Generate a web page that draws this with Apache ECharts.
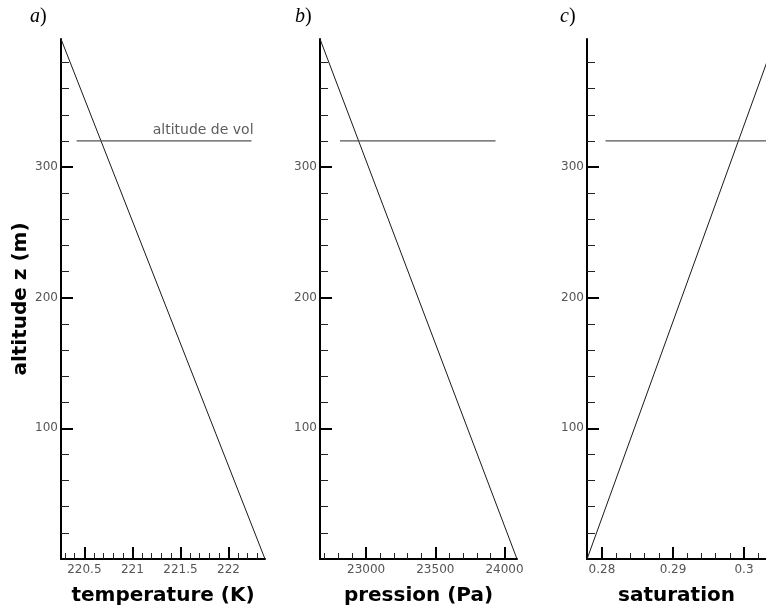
<!DOCTYPE html>
<html>
<head>
<meta charset="utf-8">
<title>Profils verticaux</title>
<script src="https://cdn.jsdelivr.net/npm/echarts@6/dist/echarts.min.js"></script>
<style>
  html, body { margin: 0; padding: 0; background: #fff; }
  #chart { width: 766px; height: 612px; }
</style>
</head>
<body>
<div id="chart"></div>
<script>
// Vertical profiles: altitude (m) against temperature, pressure and saturation
const altZ = [0, 398];
const tempK = [222.38, 220.257];
const presPa = [24090, 22667];
const satur = [0.2779, 0.3044];

// Flight level and the extent of its marker line in each panel
const volZ = 320;
const volT = [220.42, 222.24];
const volP = [22812, 23935];
const volS = [0.2805, 0.3040];

// Axis ranges
const altRange = [0, 398];
const tempRange = [220.257, 222.38];
const presRange = [22667, 24090];
const satRange = [0.27789, 0.3031];

// Tick values
const altTicks = [100, 200, 300];
const altMinor = [20, 40, 60, 80, 120, 140, 160, 180, 220, 240, 260, 280, 320, 340, 360, 380];
const tempTicks = [220.5, 221, 221.5, 222];
const tempMinor = [220.3, 220.4, 220.6, 220.7, 220.8, 220.9, 221.1, 221.2, 221.3, 221.4,
                   221.6, 221.7, 221.8, 221.9, 222.1, 222.2, 222.3];
const presTicks = [23000, 23500, 24000];
const presMinor = [22700, 22800, 22900, 23100, 23200, 23300, 23400, 23600, 23700, 23800, 23900];
const satTicks = [0.28, 0.29, 0.3];
const satMinor = [0.282, 0.284, 0.286, 0.288, 0.292, 0.294, 0.296, 0.298, 0.302];

const panelLetters = ['a', 'b', 'c'];
const xTitles = ['temperature (K)', 'pression (Pa)', 'saturation'];
const yTitle = 'altitude z (m)';
const volLabel = 'altitude de vol';

const FONT = 'DejaVu Sans';
const grids = [
  { left: 61, top: 39, width: 204, height: 520 },
  { left: 320, top: 39, width: 197, height: 520 },
  { left: 587, top: 39, width: 179, height: 520 }
];

const fmtNum = v => String(Math.round(v * 1000) / 1000);

function xAxes(gi, range, ticks, minor, title) {
  return [
    {
      type: 'value', gridIndex: gi, position: 'bottom', min: range[0], max: range[1],
      axisLine: { show: true, onZero: false, lineStyle: { color: '#000', width: 2 } },
      axisTick: { show: true, inside: true, length: 12, customValues: ticks,
                  lineStyle: { color: '#000', width: 2 } },
      axisLabel: { show: true, customValues: ticks, formatter: fmtNum, margin: 5,
                   color: '#555', fontFamily: FONT, fontSize: 12 },
      splitLine: { show: false },
      name: title, nameLocation: 'middle', nameGap: 27,
      nameTextStyle: { fontFamily: FONT, fontWeight: 'bold', fontSize: 20, color: '#000' }
    },
    {
      type: 'value', gridIndex: gi, position: 'bottom', min: range[0], max: range[1],
      axisLine: { show: false, onZero: false },
      axisTick: { show: true, inside: true, length: 6, customValues: minor,
                  lineStyle: { color: '#222', width: 1 } },
      axisLabel: { show: false },
      splitLine: { show: false }
    }
  ];
}

function yAxes(gi, withTitle) {
  const main = {
    type: 'value', gridIndex: gi, position: 'left', min: altRange[0], max: altRange[1],
    axisLine: { show: true, onZero: false, lineStyle: { color: '#000', width: 2 } },
    axisTick: { show: true, inside: true, length: 12, customValues: altTicks,
                lineStyle: { color: '#000', width: 2 } },
    axisLabel: { show: true, customValues: altTicks, formatter: fmtNum, margin: 3,
                 color: '#555', fontFamily: FONT, fontSize: 12 },
    splitLine: { show: false }
  };
  if (withTitle) {
    main.name = yTitle;
    main.nameLocation = 'middle';
    main.nameGap = 28;
    main.nameTextStyle = { fontFamily: FONT, fontWeight: 'bold', fontSize: 20, color: '#000' };
  }
  return [
    main,
    {
      type: 'value', gridIndex: gi, position: 'left', min: altRange[0], max: altRange[1],
      axisLine: { show: false, onZero: false },
      axisTick: { show: true, inside: true, length: 8, customValues: altMinor,
                  lineStyle: { color: '#222', width: 1 } },
      axisLabel: { show: false },
      splitLine: { show: false }
    }
  ];
}

const pairs = (xs, ys) => xs.map((x, i) => [x, ys[i]]);

function profile(gi, xs) {
  return {
    type: 'line', xAxisIndex: gi * 2, yAxisIndex: gi * 2,
    data: pairs(xs, altZ), symbol: 'none', clip: true, silent: true,
    lineStyle: { color: '#1a1a1a', width: 1 }
  };
}
function flightLevel(gi, xs) {
  return {
    type: 'line', xAxisIndex: gi * 2, yAxisIndex: gi * 2,
    data: xs.map(x => [x, volZ]), symbol: 'none', clip: true, silent: true,
    lineStyle: { color: '#555', width: 1.2 }
  };
}

const option = {
  backgroundColor: '#fff',
  animation: false,
  grid: grids,
  xAxis: [].concat(
    xAxes(0, tempRange, tempTicks, tempMinor, xTitles[0]),
    xAxes(1, presRange, presTicks, presMinor, xTitles[1]),
    xAxes(2, satRange, satTicks, satMinor, xTitles[2])
  ),
  yAxis: [].concat(yAxes(0, true), yAxes(1, false), yAxes(2, false)),
  series: [
    profile(0, tempK),
    profile(1, presPa),
    profile(2, satur),
    flightLevel(0, volT),
    flightLevel(1, volP),
    flightLevel(2, volS),
    {
      // caption sitting above the right end of the flight-level line
      type: 'scatter', xAxisIndex: 0, yAxisIndex: 0, silent: true,
      data: [[volT[1], volZ]], symbol: 'circle', symbolSize: 1,
      itemStyle: { color: 'rgba(0,0,0,0)' },
      label: {
        show: true, position: 'top', align: 'right', distance: 3, offset: [2, 0],
        formatter: volLabel, fontFamily: FONT, fontSize: 14, color: '#333'
      }
    }
  ],
  graphic: panelLetters.map((l, i) => ({
    type: 'text',
    left: [30, 295, 560][i],
    top: 7,
    style: {
      text: '{it|' + l + '}{up|)}',
      rich: {
        it: { fontFamily: 'Liberation Serif', fontStyle: 'italic', fontSize: 20, fill: '#000' },
        up: { fontFamily: 'Liberation Serif', fontSize: 20, fill: '#000' }
      }
    }
  }))
};

const chart = echarts.init(document.getElementById('chart'), null, { renderer: 'canvas' });
chart.setOption(option);
</script>
</body>
</html>
